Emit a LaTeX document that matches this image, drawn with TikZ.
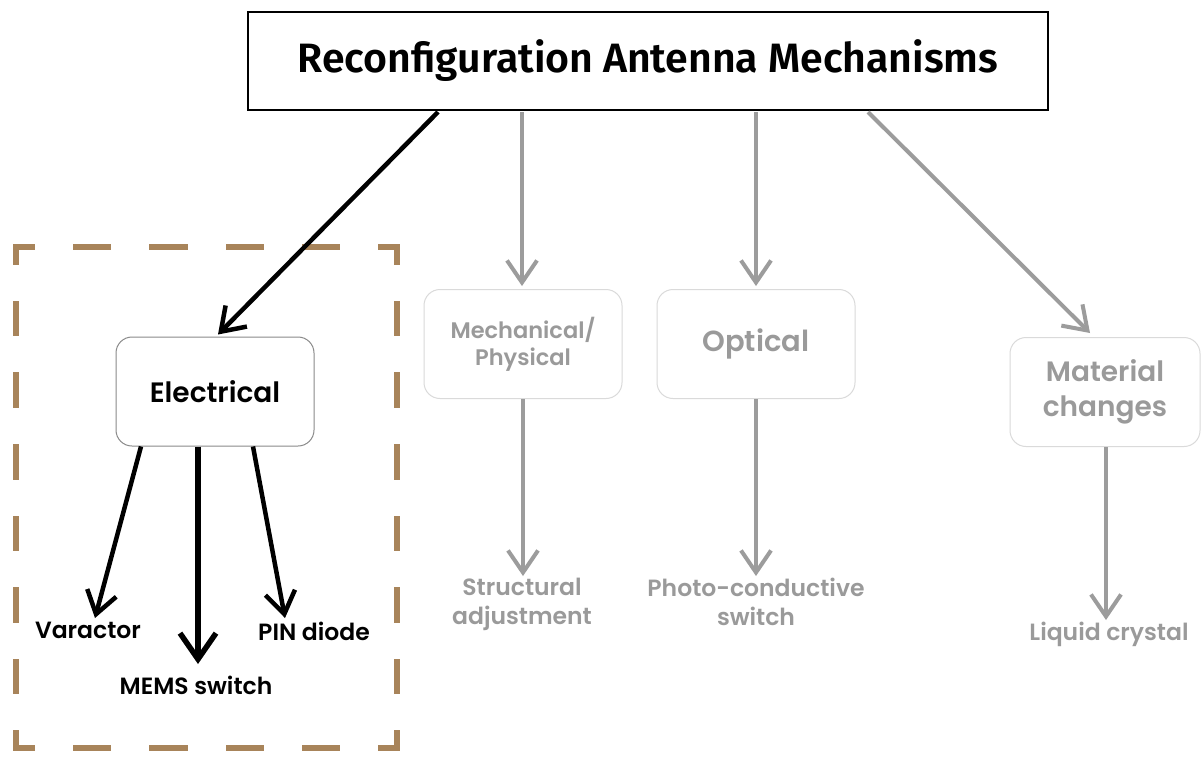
\documentclass[tikz,border=0pt]{standalone}
\usepackage{fontspec}
\IfFontExistsTF{Poppins SemiBold}{\setmainfont{Poppins SemiBold}\newcommand\lblweight{\mdseries}}{\setmainfont{Poppins}\newcommand\lblweight{\bfseries}}
\IfFontExistsTF{Fira Sans SemiBold}{\newfontfamily\titlefont{Fira Sans SemiBold}\newcommand\ttlweight{\mdseries}}{\newfontfamily\titlefont{Fira Sans}\newcommand\ttlweight{\bfseries}}
\usetikzlibrary{arrows.meta,calc}
\definecolor{gtext}{HTML}{9A9A9A}
\definecolor{garrow}{HTML}{9C9C9C}
\definecolor{gbox}{HTML}{DADADA}
\definecolor{ebox}{HTML}{8A8A8A}
\definecolor{brownd}{HTML}{A8845A}
\tikzset{
  titlebox/.style={draw=black, line width=2pt, minimum width=800, minimum height=98, inner sep=0pt,
    font=\titlefont\ttlweight\fontsize{41}{44}\selectfont},
  catbox/.style={draw=#1, line width=1pt, rounded corners=16pt, minimum width=198, minimum height=109,
    inner sep=0pt, align=center},
  leaf/.style={inner sep=0pt, anchor=north, align=center, font=\lblweight\fontsize{23.5}{29}\selectfont},
  barrow/.style={draw=black, line width=4.5pt, -{Straight Barb[length=22pt,width=30pt]}},
  bigarrow/.style={draw=black, line width=5.5pt, -{Straight Barb[length=26pt,width=36pt]}},
  garr/.style={draw=garrow, line width=4pt, -{Straight Barb[length=22pt,width=30pt]}},
  dashside/.style={draw=brownd, line width=5.5pt, line cap=rect}
}
\begin{document}
\begin{tikzpicture}[x=1pt,y=-1pt]
\useasboundingbox[fill=white] (0,0) rectangle (1202,756);

% dashed frame
\draw[dashside, dash pattern=on 32.7pt off 43.5pt, dash phase=16.35pt] (16,247) -- (397,247);
\draw[dashside, dash pattern=on 32.7pt off 43.5pt, dash phase=16.35pt] (16,748) -- (397,748);
\draw[dashside, dash pattern=on 30pt off 41.6pt, dash phase=15pt] (16,247) -- (16,748);
\draw[dashside, dash pattern=on 30pt off 41.6pt, dash phase=15pt] (397,247) -- (397,748);

% nodes
\node[titlebox] (title) at (648,61) {Reconfiguration Antenna Mechanisms};
\node[catbox=ebox, font=\lblweight\fontsize{28}{30}\selectfont] (elec) at (215,391.5) {Electrical};
\node[catbox=gbox, text=gtext, font=\lblweight\fontsize{22.5}{27}\selectfont] (mech) at (523,344) {Mechanical/\\Physical};
\node[catbox=gbox, text=gtext, font=\lblweight\fontsize{29}{30}\selectfont] (opt) at (756,344) {Optical};
\node[catbox=gbox, text=gtext, font=\lblweight\fontsize{28}{35}\selectfont, minimum width=190] (mat) at (1105,392) {Material\\changes};

\node[leaf] (var) at (88,622) {Varactor};
\node[leaf] (mems) at (196,676) {MEMS switch};
\node[leaf] (pin) at (314,622) {PIN diode};
\node[leaf, text=gtext] (str) at (522,578) {Structural\\adjustment};
\node[leaf, text=gtext] (pho) at (756,578) {Photo-conductive\\switch};
\node[leaf, text=gtext] (liq) at (1109,622) {Liquid crystal};

% connectors
\draw[barrow] ($(title.south)+(-210,1)$) -- ($(elec.north)+(3,-2)$);
\draw[garr] ($(title.south)+(-126,1)$) -- ($(mech.north)+(-1,-3)$);
\draw[garr] ($(title.south)+(108,1)$) -- ($(opt.north)+(0,-3)$);
\draw[garr] ($(title.south)+(220,1)$) -- ($(mat.north)+(-15,-4)$);

\draw[barrow] ($(elec.south)+(-74,0)$) -- ($(var.north)+(7,-4)$);
\draw[bigarrow] ($(elec.south)+(-17,0)$) -- ($(mems.north)+(2,-12)$);
\draw[barrow] ($(elec.south)+(38,0)$) -- ($(pin.north)+(-29,-4)$);

\draw[garr] (mech.south) -- ($(str.north)+(1,-2)$);
\draw[garr] (opt.south) -- ($(pho.north)+(0,-2)$);
\draw[garr] ($(mat.south)+(1,0)$) -- ($(liq.north)+(-3,-2)$);
\end{tikzpicture}
\end{document}
